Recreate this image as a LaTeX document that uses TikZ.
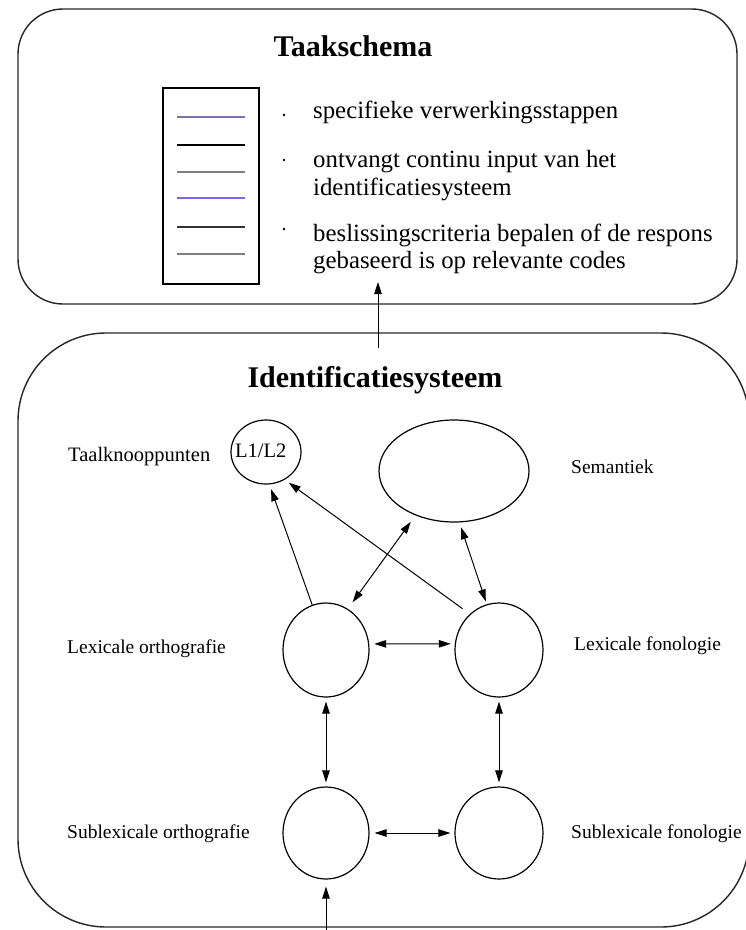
\documentclass[tikz,border=0pt]{standalone}
\usepackage{fontspec}
\setmainfont{Liberation Serif}
\usetikzlibrary{arrows.meta,shapes.geometric}

\begin{document}
\begin{tikzpicture}[x=1pt,y=-1pt,
  frame/.style={draw=black!85, line width=1.4pt, rounded corners=#1, inner sep=0pt},
  listbox/.style={draw, line width=1.2pt, inner sep=0pt},
  bubble/.style={draw, ellipse, line width=1.2pt, inner sep=0pt},
  conn/.style={line width=1pt, -{Triangle[length=12pt,width=7.5pt]}},
  biconn/.style={line width=1pt, {Triangle[length=12pt,width=7.5pt]}-{Triangle[length=12pt,width=7.5pt]}},
  title/.style={font=\fontsize{30}{34}\selectfont\bfseries, inner sep=0pt, anchor=base},
  item/.style={font=\fontsize{24.8}{27}\selectfont, inner sep=0pt, anchor=base west},
  tag/.style={font=\fontsize{19.5}{23}\selectfont, inner sep=0pt, anchor=base west},
  dot/.style={fill, circle, inner sep=0pt, minimum size=2.8pt},
]
\useasboundingbox (0,0) rectangle (746,930);

% ---------- task schema ----------
\node[frame=45pt, minimum width=719pt, minimum height=295pt] (task) at (377.5,156.5) {};
\node[title] (tasktitle) at (353,56) {Taakschema};

\node[listbox, minimum width=96pt, minimum height=196pt] (list) at (211,186) {};
\draw[line width=1.5pt, color={rgb,255:red,125;green,115;blue,175}] (177,117) -- (245,117);
\draw[line width=1.5pt, black] (177,145) -- (245,145);
\draw[line width=1.5pt, black!50] (177,172) -- (245,172);
\draw[line width=1.5pt, color={rgb,255:red,130;green,100;blue,230}] (177,198) -- (245,198);
\draw[line width=1.5pt, black!80] (177,227) -- (245,227);
\draw[line width=1.5pt, black!50] (177,254) -- (245,254);

\node[dot] (d1) at (284,115) {};
\node[dot] (d2) at (284,160) {};
\node[dot] (d3) at (284,229) {};
\node[item] (i1) at (313,118) {specifieke verwerkingsstappen};
\node[item] (i2a) at (313,167) {ontvangt continu input van het};
\node[item] (i2b) at (313,195) {identificatiesysteem};
\node[item] (i3a) at (313,241) {beslissingscriteria bepalen of de respons};
\node[item] (i3b) at (313,268) {gebaseerd is op relevante codes};

% ---------- identification system (right side runs past the page edge) ----------
\node[frame=88pt, minimum width=731pt, minimum height=594pt] (ident) at (383.5,630) {};
\node[title] (identtitle) at (375,387) {Identificatiesysteem};

\coordinate (up0) at (378,348);
\coordinate (up1) at (378,282);
\draw[conn] (up0) -- (up1);

\node[bubble, minimum width=70pt, minimum height=64pt] (l12) at (266,452) {};
\node[tag, font=\fontsize{20.5}{23}\selectfont] (l12txt) at (235,457) {L1/L2};
\node[tag, font=\fontsize{20.5}{23}\selectfont] (taal) at (68,461) {Taalknooppunten};

\node[bubble, minimum width=150pt, minimum height=102pt] (sem) at (454,471) {};
\node[tag] (semtxt) at (571,473) {Semantiek};

\node[bubble, minimum width=86pt, minimum height=94pt] (lo) at (326,650) {};
\node[bubble, minimum width=88pt, minimum height=94pt] (lf) at (499,650) {};
\node[bubble, minimum width=86pt, minimum height=92pt] (so) at (326,833) {};
\node[bubble, minimum width=88pt, minimum height=92pt] (sf) at (499,833) {};

\node[tag] (lotxt) at (67,653) {Lexicale orthografie};
\node[tag] (lftxt) at (574,650) {Lexicale fonologie};
\node[tag] (sotxt) at (67,838) {Sublexicale orthografie};
\node[tag] (sftxt) at (571,838) {Sublexicale fonologie};

% connections
\draw[conn, shorten >=5pt] (lo.107) -- (l12.-84);
\draw[conn, shorten <=9pt, shorten >=5pt] (lf.129) -- (l12.-56);
\draw[biconn, shorten <=8pt, shorten >=8pt] (lo.62) -- (sem.-131);
\draw[biconn, shorten <=5pt, shorten >=3pt] (sem.-84) -- (lf.105);
\draw[biconn, shorten <=5pt, shorten >=4pt] (lo.8) -- (lf.172);
\draw[biconn, shorten <=4pt, shorten >=4pt] (lo.south) -- (so.north);
\draw[biconn, shorten <=4pt, shorten >=4pt] (lf.south) -- (sf.north);
\draw[biconn, shorten <=5pt, shorten >=4pt] (so.east) -- (sf.west);

\coordinate (inp) at (326,930);
\draw[conn, shorten >=7pt] (inp) -- (so.south);
\end{tikzpicture}
\end{document}
